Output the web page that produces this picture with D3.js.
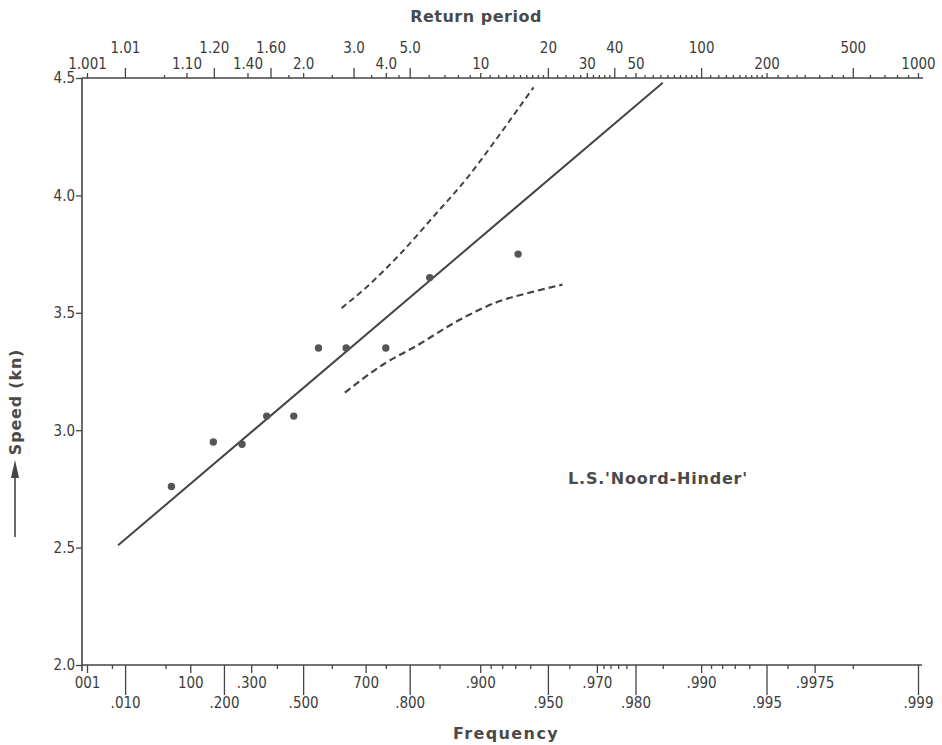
<!DOCTYPE html>
<html>
<head>
<meta charset="utf-8">
<script src="https://cdn.jsdelivr.net/npm/d3@7"></script>
<style>
	body { margin: 0; background: #fff; }
	.tick text { font-family: "DejaVu Sans Condensed", "DejaVu Sans", sans-serif; font-stretch: condensed; font-size: 15px; fill: #3c3c3c; }
	.tick line { stroke: #444; stroke-width: 1.3; }
	.title { font-family: "DejaVu Sans", sans-serif; font-weight: bold; font-size: 16px; fill: #4a4a4a; }
</style>
</head>
<body>
<div id="chart"></div>
<script>
// plotted observations (frequency, speed in kn)
const obsFreq = [0.060, 0.165, 0.265, 0.360, 0.465, 0.555, 0.645, 0.750, 0.835, 0.932];
const obsSpeed = [2.76, 2.95, 2.94, 3.06, 3.06, 3.35, 3.35, 3.35, 3.65, 3.75];

// fitted straight line (two ends)
const fitFreq = [0.007, 0.985];
const fitSpeed = [2.51, 4.48];

// confidence curves
const upperFreq = [0.631, 0.703, 0.781, 0.841, 0.885, 0.918, 0.931, 0.942];
const upperSpeed = [3.52, 3.61, 3.75, 3.91, 4.07, 4.26, 4.36, 4.46];
const lowerFreq = [0.641, 0.744, 0.813, 0.877, 0.918, 0.942, 0.957];
const lowerSpeed = [3.16, 3.28, 3.36, 3.47, 3.55, 3.59, 3.62];

// bottom axis (frequency)
const botMajor = [0.01, 0.2, 0.5, 0.8, 0.95, 0.98, 0.995, 0.999];
const botMajorLabels = ['.010', '.200', '.500', '.800', '.950', '.980', '.995', '.999'];
const botMedium = [0.001, 0.1, 0.3, 0.7, 0.9, 0.97, 0.99, 0.997];
const botMediumLabels = ['001', '100', '.300', '700', '.900', '.970', '.990', '.9975'];
const botMinor = [0.005, 0.05, 0.4, 0.6, 0.75, 0.85, 0.91, 0.92, 0.93, 0.94, 0.96, 0.972, 0.974, 0.976, 0.978,
	0.985, 0.991, 0.992, 0.993, 0.994, 0.996, 0.998];

// top axis (return period)
const topMajor = [1.01, 1.20, 1.60, 3.0, 5.0, 20, 40, 100, 500];
const topMajorLabels = ['1.01', '1.20', '1.60', '3.0', '5.0', '20', '40', '100', '500'];
const topLabeled = [1.001, 1.10, 1.40, 2.0, 4.0, 10, 30, 50, 200, 1000];
const topLabeledLabels = ['1.001', '1.10', '1.40', '2.0', '4.0', '10', '30', '50', '200', '1000'];
const topMinor = [1.05, 1.8, 2.5, 3.5, 4.5, 6, 7, 8, 9, 11, 12, 13, 14, 15, 16, 17, 18, 19, 22, 24, 26, 28,
	32, 34, 36, 38, 45, 55, 60, 65, 70, 75, 80, 85, 90, 95, 110, 120, 130, 140, 150, 160, 170, 180, 190,
	225, 250, 275, 300, 350, 400, 450, 600, 700, 800, 900];

const speedTicks = [2.0, 2.5, 3.0, 3.5, 4.0, 4.5];

const width = 942, height = 745;
const plotLeft = 82, plotRight = 923, plotTop = 78, plotBottom = 665;

// gumbel reduced variate
const gumbel = f => -Math.log(-Math.log(f));
const fromT = t => gumbel(1 - 1 / t);

const x = d3.scaleLinear().domain([gumbel(0.001), gumbel(0.999)]).range([87, 918]);
const y = d3.scaleLinear().domain([2.0, 4.5]).range([plotBottom, plotTop]);

const svg = d3.select('#chart').append('svg').attr('width', width).attr('height', height);

// axis lines
const frame = svg.append('g').attr('stroke', '#444').attr('stroke-width', 1.6);
frame.append('line').attr('x1', plotLeft).attr('x2', plotLeft).attr('y1', plotTop).attr('y2', plotBottom + 6);
frame.append('line').attr('x1', plotLeft).attr('x2', plotRight).attr('y1', plotTop).attr('y2', plotTop);
frame.append('line').attr('x1', plotLeft).attr('x2', plotRight - 1).attr('y1', plotBottom).attr('y2', plotBottom);

function addAxis(axis, pos) {
	svg.append('g').attr('transform', pos).call(axis).call(g => g.select('.domain').remove());
}

// bottom
addAxis(d3.axisBottom(x).tickValues(botMinor.map(gumbel)).tickSize(4).tickFormat(''), `translate(0,${plotBottom})`);
addAxis(d3.axisBottom(x).tickValues(botMedium.map(gumbel)).tickSize(8).tickPadding(4).tickFormat((d, i) => botMediumLabels[i]), `translate(0,${plotBottom})`);
addAxis(d3.axisBottom(x).tickValues(botMajor.map(gumbel)).tickSize(30).tickPadding(2).tickFormat((d, i) => botMajorLabels[i]), `translate(0,${plotBottom})`);

// top
addAxis(d3.axisTop(x).tickValues(topMinor.map(fromT)).tickSize(3).tickFormat(''), `translate(0,${plotTop})`);
addAxis(d3.axisTop(x).tickValues(topLabeled.map(fromT)).tickSize(5).tickPadding(4).tickFormat((d, i) => topLabeledLabels[i]), `translate(0,${plotTop})`);
addAxis(d3.axisTop(x).tickValues(topMajor.map(fromT)).tickSize(10).tickPadding(15).tickFormat((d, i) => topMajorLabels[i]), `translate(0,${plotTop})`);

// left
addAxis(d3.axisLeft(y).tickValues(speedTicks).tickSize(6).tickPadding(1).tickFormat(d3.format('.1f')), `translate(${plotLeft},0)`);

// titles
svg.append('text').attr('class', 'title').attr('x', 476).attr('y', 22).attr('text-anchor', 'middle')
	.attr('letter-spacing', 0.5).text('Return period');
svg.append('text').attr('class', 'title').attr('x', 506).attr('y', 739).attr('text-anchor', 'middle')
	.attr('letter-spacing', 1.4).text('Frequency');
svg.append('text').attr('class', 'title').attr('transform', 'translate(21,402) rotate(-90)').attr('text-anchor', 'middle')
	.attr('letter-spacing', 0.8).text('Speed (kn)');
svg.append('text').attr('class', 'title').attr('font-size', 15).attr('x', 658).attr('y', 484).attr('text-anchor', 'middle')
	.attr('letter-spacing', 0.8).text("L.S.'Noord-Hinder'");

// arrow next to y label
svg.append('line').attr('x1', 15).attr('x2', 15).attr('y1', 537).attr('y2', 475).attr('stroke', '#444').attr('stroke-width', 1.6);
svg.append('path').attr('d', 'M15,460 L11,478 L19,478 Z').attr('fill', '#444');

// fitted line
const line = d3.line().x(d => x(gumbel(d[0]))).y(d => y(d[1]));
svg.append('path').datum(d3.zip(fitFreq, fitSpeed)).attr('d', line)
	.attr('fill', 'none').attr('stroke', '#444').attr('stroke-width', 2);

// confidence curves
const curve = d3.line().x(d => x(gumbel(d[0]))).y(d => y(d[1])).curve(d3.curveMonotoneX);
svg.append('path').datum(d3.zip(upperFreq, upperSpeed)).attr('d', curve)
	.attr('fill', 'none').attr('stroke', '#444').attr('stroke-width', 2).attr('stroke-dasharray', '6,4');
svg.append('path').datum(d3.zip(lowerFreq, lowerSpeed)).attr('d', curve)
	.attr('fill', 'none').attr('stroke', '#444').attr('stroke-width', 2.2).attr('stroke-dasharray', '7,4');

// observations
svg.selectAll('.point').data(d3.zip(obsFreq, obsSpeed)).join('circle')
	.attr('class', 'point')
	.attr('cx', d => x(gumbel(d[0])))
	.attr('cy', d => y(d[1]))
	.attr('r', 3.7)
	.attr('fill', '#555');
</script>
</body>
</html>
